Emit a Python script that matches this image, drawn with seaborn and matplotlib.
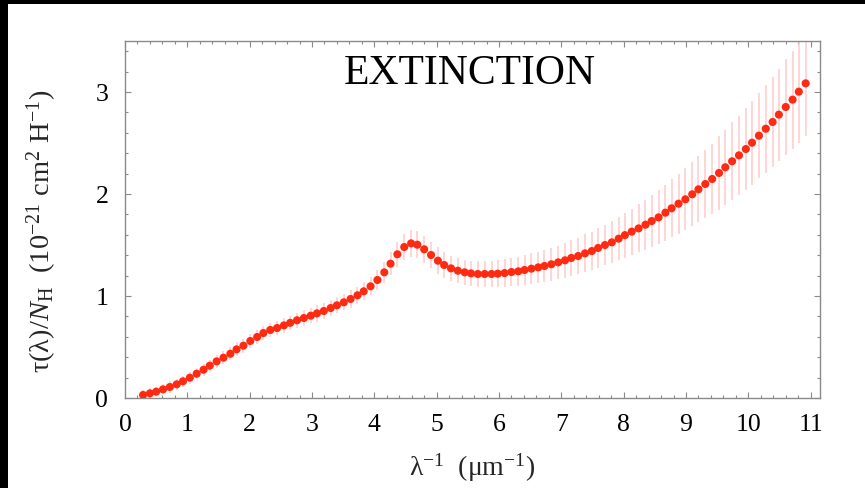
import numpy as np
import pandas as pd
import matplotlib
matplotlib.use("Agg")
import matplotlib.pyplot as plt
from matplotlib.patches import Rectangle
from matplotlib.ticker import MultipleLocator
import seaborn as sns

# ---- data ----
inv_wavelength = [0.29, 0.40, 0.50, 0.61, 0.72, 0.83, 0.93, 1.04, 1.15, 1.26,
                  1.36, 1.47, 1.58, 1.69, 1.79, 1.90, 2.01, 2.12, 2.22, 2.33,
                  2.44, 2.55, 2.65, 2.76, 2.87, 2.98, 3.08, 3.19, 3.30, 3.40,
                  3.51, 3.62, 3.73, 3.83, 3.94, 4.05, 4.16, 4.26, 4.37, 4.48,
                  4.59, 4.69, 4.80, 4.91, 5.02, 5.12, 5.23, 5.34, 5.45, 5.55,
                  5.66, 5.77, 5.88, 5.98, 6.09, 6.20, 6.31, 6.41, 6.52, 6.63,
                  6.73, 6.84, 6.95, 7.06, 7.16, 7.27, 7.38, 7.49, 7.59, 7.70,
                  7.81, 7.92, 8.02, 8.13, 8.24, 8.35, 8.45, 8.56, 8.67, 8.77,
                  8.88, 8.99, 9.10, 9.20, 9.31, 9.42, 9.53, 9.63, 9.74, 9.85,
                  9.96, 10.06, 10.17, 10.28, 10.39, 10.49, 10.60, 10.71, 10.81, 10.92]

tau_per_nh = [0.030, 0.046, 0.062, 0.085, 0.108, 0.134, 0.164, 0.199, 0.238, 0.277,
              0.317, 0.359, 0.395, 0.434, 0.477, 0.513, 0.559, 0.598, 0.637, 0.667,
              0.686, 0.712, 0.737, 0.762, 0.784, 0.807, 0.830, 0.853, 0.882, 0.909,
              0.938, 0.971, 1.007, 1.046, 1.095, 1.157, 1.232, 1.317, 1.409, 1.480,
              1.516, 1.503, 1.458, 1.402, 1.346, 1.304, 1.271, 1.248, 1.232, 1.222,
              1.216, 1.216, 1.216, 1.219, 1.225, 1.235, 1.242, 1.255, 1.268, 1.281,
              1.294, 1.311, 1.330, 1.350, 1.373, 1.392, 1.418, 1.441, 1.471, 1.500,
              1.526, 1.562, 1.597, 1.631, 1.663, 1.699, 1.735, 1.771, 1.817, 1.860,
              1.905, 1.948, 1.997, 2.046, 2.098, 2.147, 2.206, 2.262, 2.321, 2.379,
              2.441, 2.503, 2.572, 2.640, 2.706, 2.778, 2.853, 2.925, 3.003, 3.085]

tau_err = [0.050, 0.050, 0.050, 0.050, 0.055, 0.055, 0.055, 0.060, 0.060, 0.060,
           0.060, 0.065, 0.065, 0.065, 0.070, 0.070, 0.070, 0.070, 0.070, 0.070,
           0.070, 0.070, 0.070, 0.075, 0.075, 0.075, 0.080, 0.080, 0.080, 0.080,
           0.080, 0.085, 0.085, 0.090, 0.090, 0.095, 0.100, 0.110, 0.120, 0.125,
           0.130, 0.130, 0.130, 0.130, 0.130, 0.130, 0.120, 0.120, 0.125, 0.125,
           0.130, 0.130, 0.130, 0.135, 0.135, 0.140, 0.140, 0.145, 0.150, 0.150,
           0.155, 0.160, 0.165, 0.170, 0.175, 0.180, 0.185, 0.190, 0.195, 0.200,
           0.205, 0.210, 0.220, 0.225, 0.235, 0.245, 0.255, 0.265, 0.275, 0.285,
           0.295, 0.305, 0.315, 0.325, 0.335, 0.345, 0.360, 0.370, 0.380, 0.390,
           0.400, 0.410, 0.420, 0.430, 0.440, 0.450, 0.470, 0.480, 0.500, 0.520]

x_ticks = [0, 1, 2, 3, 4, 5, 6, 7, 8, 9, 10, 11]
y_ticks = [0, 1, 2, 3]
title_text = "EXTINCTION"

df = pd.DataFrame({"x": inv_wavelength, "y": tau_per_nh, "err": tau_err})

# ---- style ----
sns.set_style("ticks")
plt.rcParams["font.family"] = ["Liberation Serif", "DejaVu Serif"]
plt.rcParams["mathtext.fontset"] = "custom"
plt.rcParams["mathtext.rm"] = "Liberation Serif"
plt.rcParams["mathtext.it"] = "Liberation Serif:italic"
plt.rcParams["mathtext.default"] = "regular"

W, H = 865, 489
fig = plt.figure(figsize=(W / 100, H / 100), dpi=100)
fig.patch.set_facecolor("black")
fig.patches.append(Rectangle((8 / W, 0), 1 - 8 / W, (H - 5) / H,
                             transform=fig.transFigure, facecolor="white",
                             edgecolor="none", zorder=-10))

ax = fig.add_axes([125 / W, (H - 399) / H, (820 - 125) / W, (399 - 42) / H])
ax.set_facecolor("white")

ax.errorbar(df["x"], df["y"], yerr=df["err"], fmt="none", ecolor="#ffcaca",
            elinewidth=1.1, capsize=0, zorder=2)
sns.scatterplot(data=df, x="x", y="y", ax=ax, color="#ff2a12", s=34,
                edgecolor="none", linewidth=0, zorder=3, legend=False)

ax.set_xlim(0, 11.15)
ax.set_ylim(0, 3.5)
ax.set_xticks(x_ticks)
ax.set_yticks(y_ticks)
ax.xaxis.set_minor_locator(MultipleLocator(0.2))
ax.yaxis.set_minor_locator(MultipleLocator(0.2))

for s in ax.spines.values():
    s.set_visible(True)
    s.set_color("#8a8a8a")
    s.set_linewidth(1.0)

ax.tick_params(which="both", direction="in", top=True, right=True,
               color="#8a8a8a", width=0.8)
ax.tick_params(which="major", length=4, labelsize=18.5, labelcolor="black")
ax.tick_params(which="minor", length=2)
ax.tick_params(axis="x", which="major", pad=11)
ax.tick_params(axis="y", which="major", pad=12)

ax.set_xlabel(r"λ$^{-1}$  (μm$^{-1}$)", fontsize=20)
ax.xaxis.set_label_coords(0.5, -0.148)
ax.xaxis.label.set_va("top")
ax.set_ylabel(r"τ(λ)/$\mathit{N}_{H}$  (10$^{-21}$ cm$^{2}$ H$^{-1}$)", fontsize=20.5)
ax.yaxis.set_label_coords(-0.12, 0.47)
ax.yaxis.label.set_va("center")

ax.text(0.496, 0.881, title_text, transform=ax.transAxes, ha="center",
        va="baseline", fontsize=30, color="black")

fig.savefig("out.png", dpi=100, facecolor=fig.get_facecolor())
